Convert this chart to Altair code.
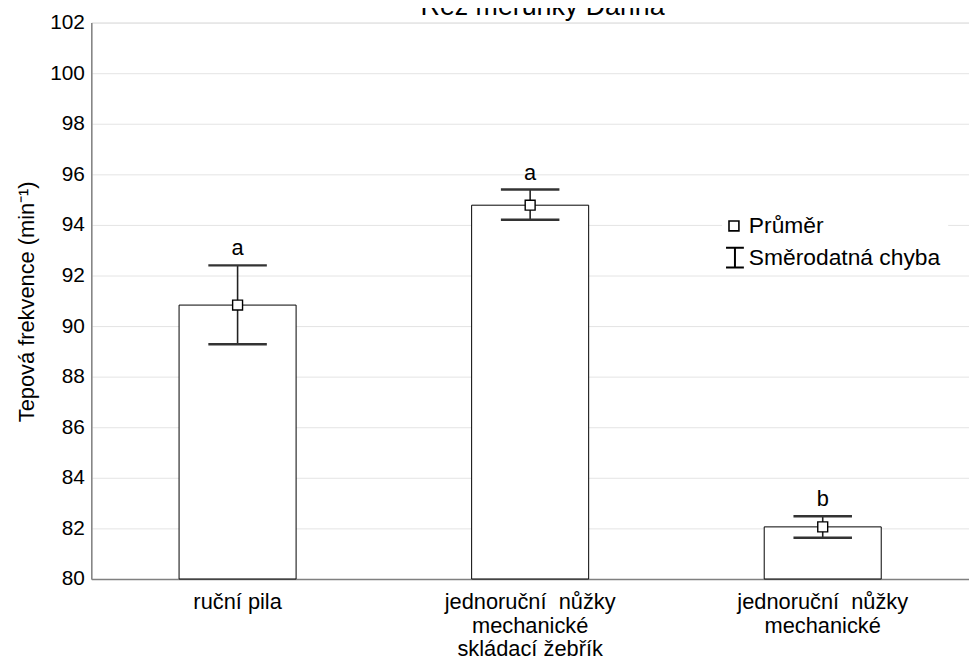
import altair as alt
import pandas as pd

categories = ["ruční pila",
              "jednoruční\u00a0 nůžky|mechanické|skládací žebřík",
              "jednoruční\u00a0 nůžky|mechanické"]
means = [90.83, 94.78, 82.06]
se_low = [89.28, 94.2, 81.63]
se_high = [92.4, 95.4, 82.48]
letters = ["a", "a", "b"]
legend_items = ["Průměr", "Směrodatná chyba"]
y_ticks = list(range(80, 103, 2))
y_min, y_max = 80, 102
title_text = "Řez meruňky Darina"

FONT = "Liberation Sans, Arial, sans-serif"
ERR_PATH = "M-1.8,-2H1.8M0,-2V2M-1.8,2H1.8"

df = pd.DataFrame({
    "cat": categories,
    "mean": means,
    "low": se_low,
    "high": se_high,
    "letter": letters,
})

x_sort = categories
x_enc = alt.X("cat:N", sort=x_sort,
              scale=alt.Scale(paddingInner=0.6, paddingOuter=0.3),
              axis=alt.Axis(title=None, labelAngle=0, labelExpr="split(datum.label, '|')",
                            labelFontSize=22, labelLineHeight=23.5, labelPadding=13,
                            labelLimit=0, labelOverlap=False,
                            labelColor="black", labelFont=FONT, ticks=False,
                            domainColor="#808080", domainWidth=1.5, grid=False))
y_scale = alt.Scale(domain=[y_min, y_max], nice=False, zero=False)
y_axis = alt.Axis(title="Tepová frekvence (min⁻¹)", values=y_ticks, grid=True,
                  gridColor="#e4e4e4", gridWidth=1, ticks=False, labelPadding=7,
                  labelFontSize=21, labelColor="black", labelFont=FONT,
                  domainColor="#808080", domainWidth=1.5,
                  titleFontSize=22, titleFont=FONT, titleFontWeight="normal",
                  titleColor="black", titleX=-65, titleY=281, titleAngle=-90,
                  titleAlign="center", titleBaseline="middle")

base = alt.Chart(df)

bars = base.mark_bar(fill="white", stroke="black", strokeWidth=1).encode(
    x=x_enc,
    y=alt.Y("mean:Q", scale=y_scale, axis=y_axis),
    y2=alt.datum(y_min),
)

rule = base.mark_rule(color="#222222", strokeWidth=1.6).encode(
    x=alt.X("cat:N", sort=x_sort), y="low:Q", y2="high:Q")

tick_low = base.mark_tick(color="#333333", thickness=2.5, size=59, opacity=1).encode(
    x=alt.X("cat:N", sort=x_sort), y="low:Q")
tick_high = base.mark_tick(color="#333333", thickness=2.5, size=59, opacity=1).encode(
    x=alt.X("cat:N", sort=x_sort), y="high:Q")

points = base.mark_point(shape="square", fill="white", stroke="black", strokeWidth=1.4,
                         size=100, opacity=1).encode(
    x=alt.X("cat:N", sort=x_sort), y="mean:Q")

letter_text = base.mark_text(fontSize=22, font=FONT, color="black", dy=-10,
                             baseline="alphabetic").encode(
    x=alt.X("cat:N", sort=x_sort), y="high:Q", text="letter:N")

# title (cut at the top edge as in the reference)
title_df = pd.DataFrame({"t": [title_text]})
title = alt.Chart(title_df).mark_text(fontSize=27, font=FONT, color="black",
                                      baseline="alphabetic", align="center").encode(
    x=alt.value(455), y=alt.value(-8), text="t:N")

# legend box
leg_df = pd.DataFrame({"mean_lbl": [legend_items[0]], "se_lbl": [legend_items[1]]})
leg_base = alt.Chart(leg_df)
leg_bg = leg_base.mark_rect(fill="white").encode(
    x=alt.value(636), x2=alt.value(864), y=alt.value(192), y2=alt.value(250))
leg_sq = leg_base.mark_point(shape="square", size=100, fill="white", stroke="black",
                             strokeWidth=1.6, opacity=1).encode(
    x=alt.value(648), y=alt.value(205))
leg_err = leg_base.mark_point(shape=ERR_PATH, size=100, stroke="black", strokeWidth=2,
                              filled=False, opacity=1).encode(
    x=alt.value(649), y=alt.value(237))
leg_t1 = leg_base.mark_text(fontSize=23, font=FONT, color="black", align="left",
                            baseline="middle").encode(
    x=alt.value(663), y=alt.value(205), text="mean_lbl:N")
leg_t2 = leg_base.mark_text(fontSize=23, font=FONT, color="black", align="left",
                            baseline="middle").encode(
    x=alt.value(663), y=alt.value(237), text="se_lbl:N")

chart = alt.layer(bars, rule, tick_low, tick_high, points, letter_text, title,
                  leg_bg, leg_sq, leg_err, leg_t1, leg_t2).properties(
    width=885, height=561,
    autosize=alt.AutoSizeParams(type="none"),
    padding={"left": 84, "top": 12, "right": 0, "bottom": 82},
).configure_view(stroke=None).configure(background="white")

chart.save("out.html", embed_options={"renderer": "svg", "actions": False})
